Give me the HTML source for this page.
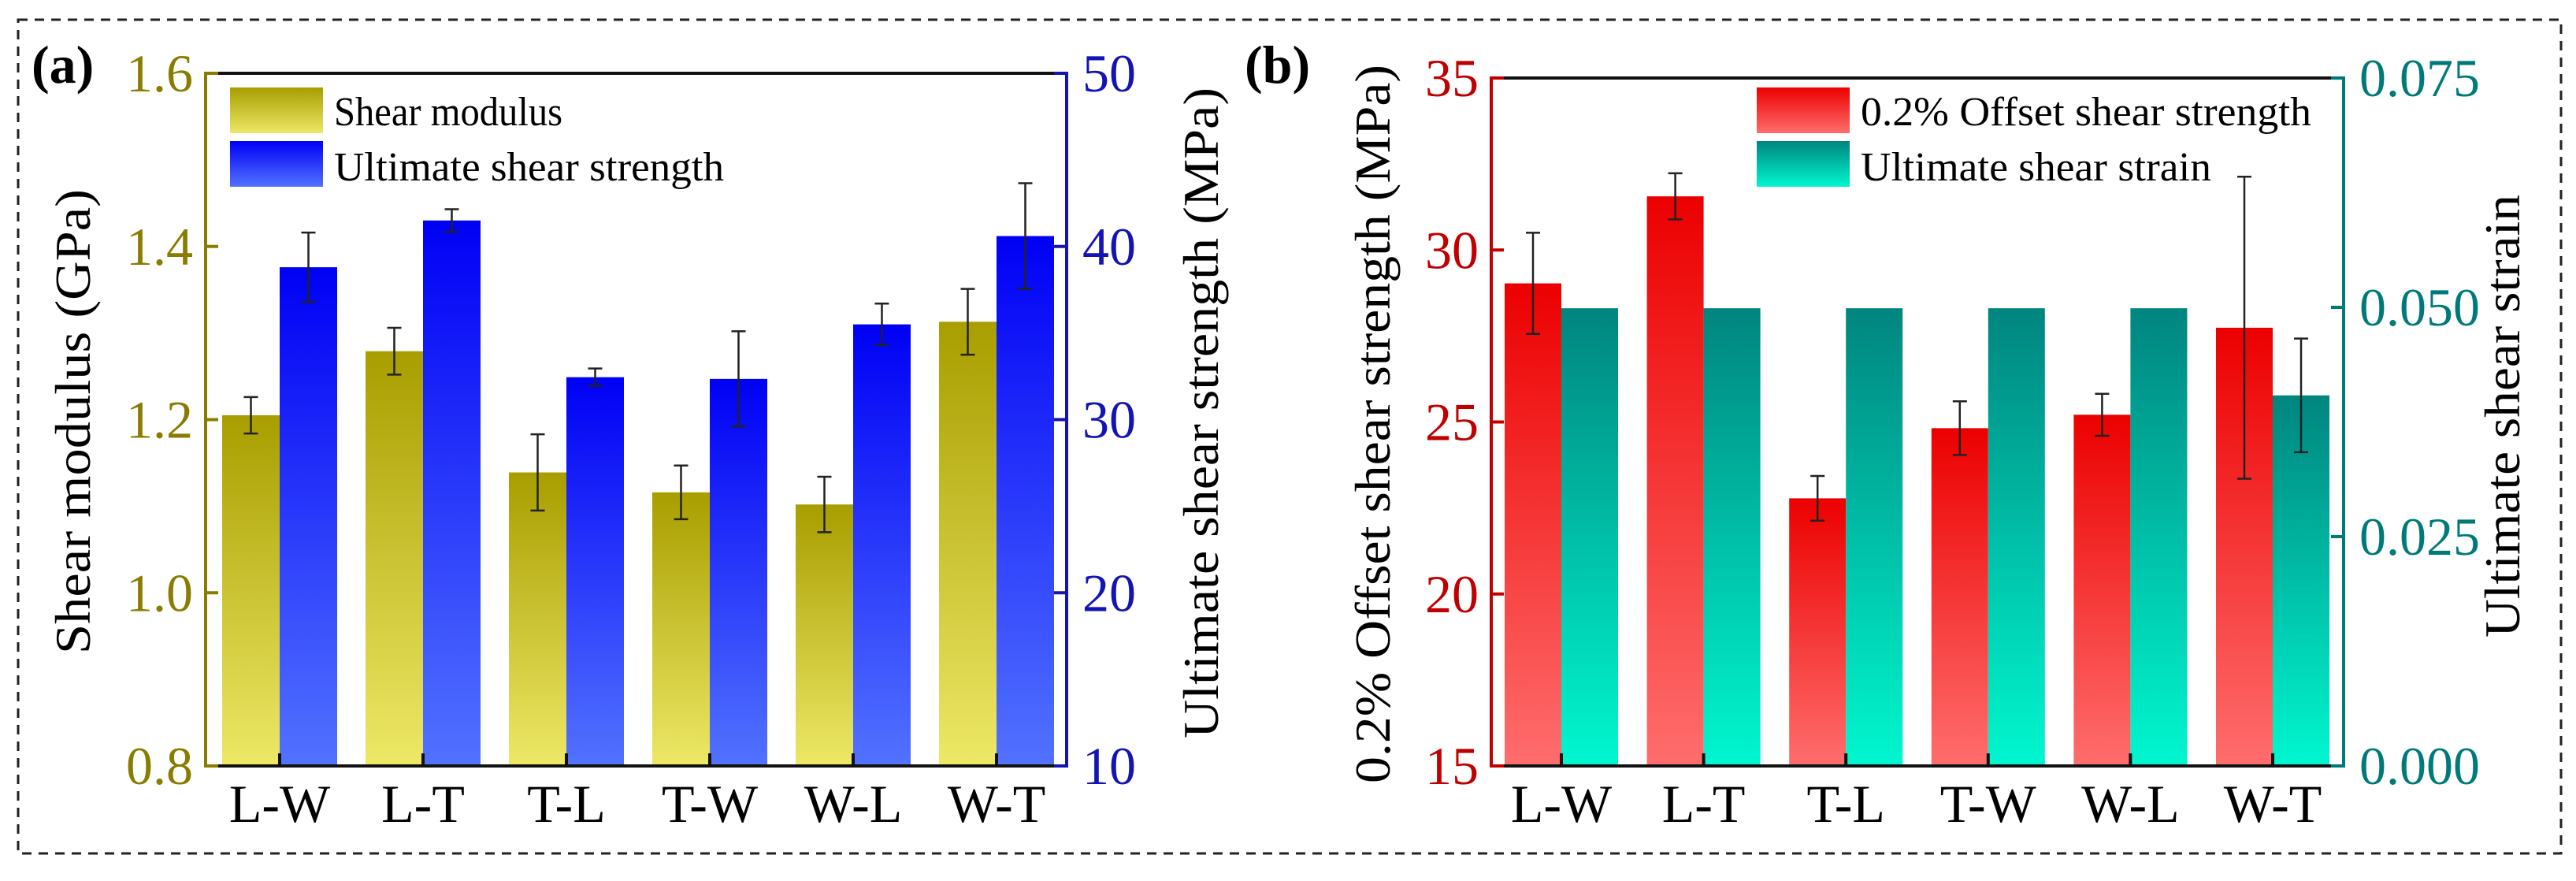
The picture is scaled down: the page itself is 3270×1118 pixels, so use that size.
<!DOCTYPE html>
<html><head><meta charset="utf-8"><style>
html,body{margin:0;padding:0;background:#fff;}
svg{display:block;}
svg text{font-family:"Liberation Serif","Times New Roman",serif;}
</style></head><body>
<svg id="fig" width="3270" height="1118" viewBox="0 0 3270 1118" xmlns="http://www.w3.org/2000/svg" font-family="Liberation Serif, serif">
<defs>
<linearGradient id="gY" x1="0" y1="0" x2="0" y2="1"><stop offset="0" stop-color="#a89e00"/><stop offset="1" stop-color="#ede866"/></linearGradient>
<linearGradient id="gB" x1="0" y1="0" x2="0" y2="1"><stop offset="0" stop-color="#0000f5"/><stop offset="1" stop-color="#5272ff"/></linearGradient>
<linearGradient id="gR" x1="0" y1="0" x2="0" y2="1"><stop offset="0" stop-color="#ec0000"/><stop offset="1" stop-color="#ff6d6d"/></linearGradient>
<linearGradient id="gT" x1="0" y1="0" x2="0" y2="1"><stop offset="0" stop-color="#00857f"/><stop offset="1" stop-color="#00f7cf"/></linearGradient>
</defs>
<rect x="23" y="25" width="3228" height="1058" fill="none" stroke="#222" stroke-width="3" stroke-dasharray="12,9"/>
<g id="pa"></g>
<g id="pb"></g>
</svg>
<script>
const cats = ["L-W","L-T","T-L","T-W","W-L","W-T"];
const modulus = [1.205,1.279,1.139,1.116,1.102,1.313];
const modulusErr = [0.021,0.027,0.044,0.031,0.032,0.038];
const ultStrength = [38.8,41.5,32.45,32.35,35.5,40.6];
const ultStrengthErr = [2.0,0.65,0.5,2.75,1.2,3.05];
const offStrength = [29.03,31.56,22.78,24.82,25.21,27.74];
const offStrengthErr = [1.47,0.67,0.65,0.78,0.61,4.39];
const ultStrain = [0.0499,0.0499,0.0499,0.0499,0.0499,0.0404];
const ultStrainErr = [0,0,0,0,0,0.0062];
const ticksA1 = ["0.8","1.0","1.2","1.4","1.6"];
const ticksA2 = ["10","20","30","40","50"];
const ticksB1 = ["15","20","25","30","35"];
const ticksB2 = ["0.000","0.025","0.050","0.075"];

const NS="http://www.w3.org/2000/svg";
const FF="Liberation Serif, Times New Roman, serif";
function mk(parent,tag,attrs,text){const e=document.createElementNS(NS,tag);for(const k in attrs)e.setAttribute(k,attrs[k]);if(text!==undefined){e.textContent=text;e.setAttribute('font-family',FF);}parent.appendChild(e);return e;}

function panel(g,cfg){
  const L=cfg.L,R=cfg.R,T=cfg.T,B=cfg.B;
  const y1=v=>B-(v-cfg.min1)/(cfg.max1-cfg.min1)*(B-T);
  const y2=v=>B-(v-cfg.min2)/(cfg.max2-cfg.min2)*(B-T);
  const cx=i=>cfg.c0+i*cfg.step;
  const bw=cfg.bw;
  function bars(vals,errs,yf,fill,side,nm){
    vals.forEach((v,i)=>{
      const x=side<0?cx(i)-bw:cx(i);
      const r=mk(g,'rect',{x:x,y:yf(v),width:bw,height:B-yf(v),fill:fill});
      
      
      if(errs[i]>0){
        const xc=x+bw/2,t=yf(v+errs[i]),b=yf(v-errs[i]);
        const e=mk(g,'path',{d:`M${xc},${t}V${b}M${xc-9},${t}H${xc+9}M${xc-9},${b}H${xc+9}`,stroke:'#222','stroke-width':2.5,fill:'none'});
        
        
      }
    });
  }
  bars(cfg.s1,cfg.e1,y1,cfg.f1,-1,cfg.n1);
  bars(cfg.s2,cfg.e2,y2,cfg.f2,1,cfg.n2);
  mk(g,'line',{x1:L,y1:T,x2:R,y2:T,stroke:'#111','stroke-width':4,});
  mk(g,'line',{x1:L,y1:B,x2:R,y2:B,stroke:'#111','stroke-width':4,});
  mk(g,'line',{x1:L,y1:T-2,x2:L,y2:B+2,stroke:cfg.c1,'stroke-width':4,});
  mk(g,'line',{x1:R,y1:T-2,x2:R,y2:B+2,stroke:cfg.c2,'stroke-width':4,});
  cats.forEach((c,i)=>{
    const t=mk(g,'line',{x1:cx(i),y1:B,x2:cx(i),y2:B-16,stroke:'#111','stroke-width':4});
    
    
    const l=mk(g,'text',{x:cx(i),y:B+71,'text-anchor':'middle','font-size':68,fill:'#000'},c);
    
    
  });
  cfg.t1.forEach(s=>{
    const y=y1(parseFloat(s));
    const t=mk(g,'line',{x1:L,y1:y,x2:L+16,y2:y,stroke:cfg.c1,'stroke-width':4});
    
    
    const l=mk(g,'text',{x:L-16,y:y+23,'text-anchor':'end','font-size':68,fill:cfg.c1},s);
    
    
  });
  cfg.t2.forEach(s=>{
    const y=y2(parseFloat(s));
    const t=mk(g,'line',{x1:R,y1:y,x2:R-16,y2:y,stroke:cfg.c2,'stroke-width':4});
    
    
    const l=mk(g,'text',{x:R+20,y:y+23,'text-anchor':'start','font-size':68,fill:cfg.c2},s);
    
    
  });
  const a1=mk(g,'text',{transform:`translate(${cfg.tx1},${cfg.ty1}) rotate(-90)`,'text-anchor':'middle','font-size':64,fill:'#000',textLength:cfg.tl1,lengthAdjust:'spacingAndGlyphs'},cfg.title1);
  
  
  const a2=mk(g,'text',{transform:`translate(${cfg.tx2},${cfg.ty2}) rotate(-90)`,'text-anchor':'middle','font-size':64,fill:'#000',textLength:cfg.tl2,lengthAdjust:'spacingAndGlyphs'},cfg.title2);
  
  
  const lx=cfg.lx;
  [[cfg.f1,cfg.leg1,111,159,cfg.ll1],[cfg.f2,cfg.leg2,179,229,cfg.ll2]].forEach((d,k)=>{
    const r=mk(g,'rect',{x:lx,y:d[2],width:118,height:58,fill:d[0]});
    
    
    const t=mk(g,'text',{x:lx+132,y:d[3],'font-size':52,fill:'#000',textLength:d[4],lengthAdjust:'spacingAndGlyphs'},d[1]);
    
    
  });
  const p=mk(g,'text',{x:cfg.px,y:105,'font-size':68,'font-weight':'bold',fill:'#000'},cfg.plabel);
  
  
}

panel(document.getElementById('pa'),{L:261,R:1354,T:93,B:972,min1:0.8,max1:1.6,min2:10,max2:50,
  c0:355,step:182,bw:73,s1:modulus,e1:modulusErr,s2:ultStrength,e2:ultStrengthErr,
  f1:'url(#gY)',f2:'url(#gB)',n1:'shear-modulus',n2:'ultimate-shear-strength',
  c1:'#8a7c00',c2:'#1414b4',t1:ticksA1,t2:ticksA2,
  title1:'Shear modulus (GPa)',tx1:114,ty1:535,tl1:590,
  title2:'Ultimate shear strength (MPa)',tx2:1546,ty2:524,tl2:826,
  lx:292,leg1:'Shear modulus',leg2:'Ultimate shear strength',ll1:290,ll2:495,px:40,plabel:'(a)'});
panel(document.getElementById('pb'),{L:1893,R:2975,T:99,B:972,min1:15,max1:35,min2:0,max2:0.075,
  c0:1982,step:180.6,bw:72,s1:offStrength,e1:offStrengthErr,s2:ultStrain,e2:ultStrainErr,
  f1:'url(#gR)',f2:'url(#gT)',n1:'offset-shear-strength',n2:'ultimate-shear-strain',
  c1:'#c00000',c2:'#007a78',t1:ticksB1,t2:ticksB2,
  title1:'0.2% Offset shear strength (MPa)',tx1:1764,ty1:538,tl1:912,
  title2:'Ultimate shear strain',tx2:3198,ty2:528,tl2:562,
  lx:2230,leg1:'0.2% Offset shear strength',leg2:'Ultimate shear strain',ll1:572,ll2:445,px:1580,plabel:'(b)'});
</script>
</body></html>
